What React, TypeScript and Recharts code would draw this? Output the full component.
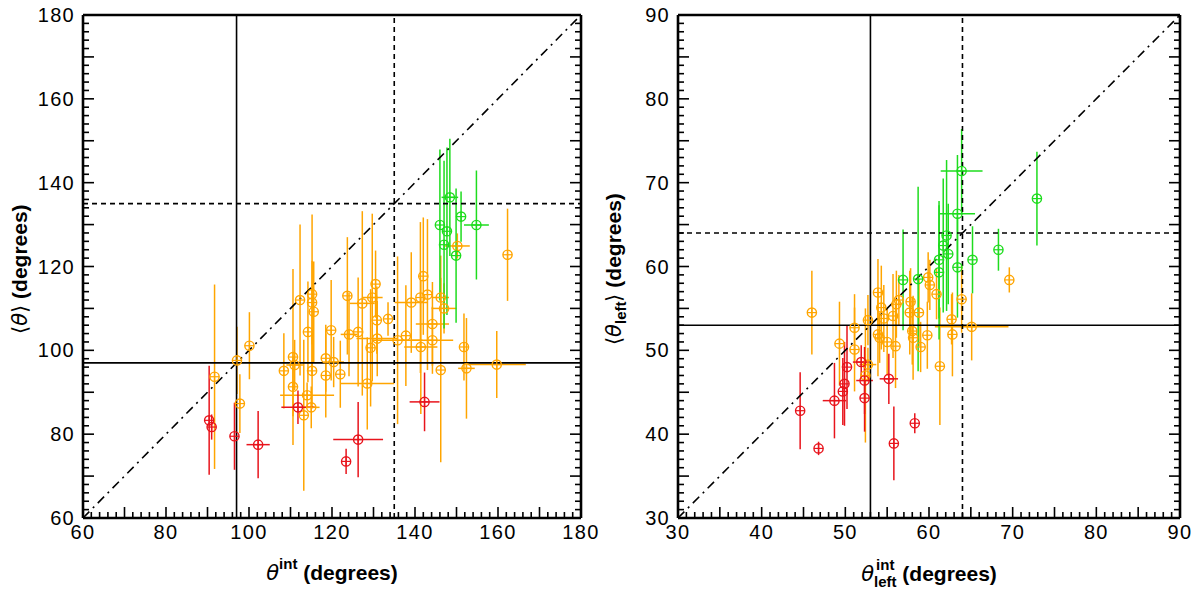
import React from 'react';
import { ScatterChart, Scatter, XAxis, YAxis, ErrorBar, ReferenceLine } from 'recharts';

// [x, y, x error, y error]
type Pt = [number, number, number, number];

const LEFT_RED: Pt[] = [
  [90.4, 83.3, 0, 13], [91, 81.7, 0, 3], [96.5, 79.5, 0, 8], [102.2, 77.5, 2.8, 8],
  [111.8, 86.4, 4, 4], [123.4, 73.5, 0, 3], [126.3, 78.7, 6, 9], [142.3, 87.7, 3.6, 7],
];

const LEFT_ORANGE: Pt[] = [
  [91.7, 93.7, 0, 22], [97.1, 97.6, 0, 8], [97.8, 87.3, 0, 7], [100.1, 101.1, 0, 8],
  [108.4, 95.1, 0, 9], [110.6, 98.4, 0, 21], [111, 96.5, 2, 6], [110.6, 91.3, 0, 7],
  [112.3, 112, 0, 18], [114, 89.3, 6.5, 3], [113.2, 84.5, 0, 18], [115, 86.4, 2, 5],
  [114.2, 104.4, 0, 12], [115.2, 113.4, 0, 19], [115.2, 111.4, 0, 10], [115.6, 109.2, 0, 12],
  [115.2, 95.1, 0, 9], [118.5, 98.1, 0, 8], [118.5, 94, 0, 10], [119.8, 104.8, 0, 12],
  [120.4, 97.2, 2.5, 6], [122, 94.3, 0, 8], [123.7, 113, 0, 14], [124.1, 103.8, 2, 10],
  [126.3, 104.4, 0, 13], [127.3, 111.2, 3, 22], [128.5, 92.1, 6.5, 11], [129.3, 100.6, 0, 14],
  [129.7, 112.6, 2.5, 20], [130.5, 115.8, 0, 8], [130.8, 107.2, 0, 8], [130.9, 102.8, 5, 9],
  [133.5, 107.5, 0, 4], [135.8, 102.4, 6, 20], [137.8, 103.5, 0, 12], [139.1, 111.4, 4, 12],
  [141.4, 100.8, 4, 16], [142, 117.7, 0, 14], [141.3, 112.6, 0, 18], [143, 113.3, 0, 18],
  [144.2, 106.3, 4, 10], [144.2, 102.4, 5, 8], [146.2, 112.6, 2, 10], [147, 110, 3, 6],
  [146.2, 95.3, 0, 22], [150.2, 124.9, 3, 3], [151.8, 100.8, 0, 8], [152.4, 95.7, 2, 12],
  [159.7, 96.6, 7, 8], [162.3, 122.8, 0, 11],
];

const LEFT_GREEN: Pt[] = [
  [148.4, 136.5, 2, 14], [151.1, 131.9, 0, 6], [146, 129.9, 0, 18], [147.7, 128.4, 0, 20],
  [154.8, 129.9, 3, 13], [147, 125.2, 0, 20], [149.9, 122.6, 0, 16],
];

const RIGHT_RED: Pt[] = [
  [44.6, 42.8, 0, 4.6], [46.8, 38.3, 0, 0.8], [48.7, 44, 1.4, 4.5], [49.7, 45.1, 0, 4],
  [49.9, 46, 0, 5], [50.2, 48, 0, 5], [51.9, 48.6, 1, 2], [52.3, 46.4, 1, 4],
  [52.3, 44.3, 0, 4], [55.2, 46.6, 1.1, 3], [55.8, 38.9, 0, 4.4], [58.3, 41.3, 0, 1.2],
];

const RIGHT_ORANGE: Pt[] = [
  [46, 54.5, 0, 5], [49.3, 50.8, 0, 5], [51.1, 52.7, 0, 4], [51.1, 50.1, 0, 5],
  [52.7, 53.6, 0, 3], [53.9, 56.9, 0, 4], [54.3, 55.1, 0, 5], [54.6, 53.8, 0, 4],
  [53.9, 51.9, 0, 5], [54.1, 51.5, 0, 3], [55, 51, 0, 4], [55.7, 54.1, 0, 5],
  [56, 50.5, 0, 5], [56.1, 55.5, 0, 4], [56.4, 56, 0, 3], [57.8, 55.8, 0, 4],
  [57.7, 54.5, 0, 5], [58, 52.3, 0, 4], [58.1, 51.5, 0, 5], [58.8, 54.5, 0, 4],
  [59, 50.4, 0, 3], [59.8, 51.8, 0, 4], [59.9, 58.7, 0, 3], [60.1, 57.8, 0, 3],
  [60.9, 56.7, 0, 3], [61.3, 48.1, 0, 7], [62.7, 53.7, 0, 3], [62.8, 51.9, 0, 5],
  [63.9, 56.1, 0, 4], [65.1, 52.8, 4.4, 4], [69.6, 58.4, 0, 1.5], [52.7, 48.3, 1, 2],
  [52.4, 47, 0, 8],
];

const RIGHT_GREEN: Pt[] = [
  [56.9, 58.4, 0, 6], [58.7, 58.5, 0, 11], [61.2, 59.3, 0, 8], [61.2, 60.8, 0, 7],
  [61.7, 62.5, 0, 8], [62.1, 63.7, 0, 9], [62.3, 61.5, 0, 6], [63.4, 59.9, 0, 6],
  [63.4, 66.3, 2.1, 7], [63.9, 71.4, 2.5, 5], [65.2, 60.8, 0, 4], [68.3, 62, 0, 2.5],
  [72.9, 68.1, 0, 5.6],
];

const RED = '#e8141c';
const ORANGE = '#ffa500';
const GREEN = '#1edc1e';
const FONT = '"Liberation Sans", Arial, sans-serif';

const toRows = (pts: Pt[]) => pts.map(([x, y, ex, ey]) => ({ x, y, ex, ey }));

function range(lo: number, hi: number, step: number) {
  const out: number[] = [];
  for (let v = lo; v <= hi + 1e-9; v += step) out.push(Math.round(v * 1000) / 1000);
  return out;
}

const isMultiple = (v: number, m: number) => Math.abs(v / m - Math.round(v / m)) < 1e-6;

function circlePlus(color: string) {
  return (props: any) => {
    const { cx, cy } = props;
    const r = 4.6;
    return (
      <g>
        <circle cx={cx} cy={cy} r={r} fill="none" stroke={color} strokeWidth={1.4} />
        <line x1={cx - r} x2={cx + r} y1={cy} y2={cy} stroke={color} strokeWidth={1.2} />
        <line x1={cx} x2={cx} y1={cy - r} y2={cy + r} stroke={color} strokeWidth={1.2} />
      </g>
    );
  };
}

function makeTick(side: string, major: number, labelEvery: number) {
  return (props: any) => {
    const { x, y, payload } = props;
    const v = payload.value;
    const len = isMultiple(v, major) ? 11 : 6;
    const label = isMultiple(v, labelEvery);
    const txt = { fontSize: 20, fontFamily: FONT, fill: '#000', letterSpacing: 1.3 };
    if (side === 'bottom') {
      return (
        <g>
          <line x1={x} x2={x} y1={y} y2={y - len} stroke="#000" strokeWidth={1.6} />
          {label && <text x={x} y={y + 21} textAnchor="middle" {...txt}>{v}</text>}
        </g>
      );
    }
    if (side === 'top') {
      return <line x1={x} x2={x} y1={y} y2={y + len} stroke="#000" strokeWidth={1.6} />;
    }
    if (side === 'left') {
      return (
        <g>
          <line x1={x} x2={x + len} y1={y} y2={y} stroke="#000" strokeWidth={1.6} />
          {label && <text x={x - 8} y={y + 7} textAnchor="end" {...txt}>{v}</text>}
        </g>
      );
    }
    return <line x1={x} x2={x - len} y1={y} y2={y} stroke="#000" strokeWidth={1.6} />;
  };
}

interface PanelProps {
  lo: number;
  hi: number;
  minor: number;
  major: number;
  labelEvery: number;
  solid: number;
  dashed: number;
  red: Pt[];
  orange: Pt[];
  green: Pt[];
  marginLeft: number;
  marginRight: number;
  xTitle: React.ReactNode;
  yTitle: React.ReactNode;
  yTitleX: number;
}

function Panel(p: PanelProps) {
  const ticks = range(p.lo, p.hi, p.minor);
  const axis = { stroke: '#000', strokeWidth: 2.6 };
  const plotLeft = p.marginLeft + 60;
  const plotRight = 600 - p.marginRight - 1;
  const groups: [Pt[], string][] = [[p.orange, ORANGE], [p.red, RED], [p.green, GREEN]];
  return (
    <div style={{ position: 'relative', width: 600, height: 591 }}>
      <ScatterChart width={600} height={591} margin={{ top: 14, right: p.marginRight, bottom: 20, left: p.marginLeft }}>
        <XAxis xAxisId="x" type="number" dataKey="x" domain={[p.lo, p.hi]} ticks={ticks} interval={0}
          height={53} tickSize={0} tickMargin={0} tickLine={false} axisLine={axis}
          tick={makeTick('bottom', p.major, p.labelEvery)} allowDataOverflow />
        <XAxis xAxisId="xt" orientation="top" type="number" domain={[p.lo, p.hi]} ticks={ticks} interval={0}
          height={1} tickSize={0} tickMargin={0} tickLine={false} axisLine={axis}
          tick={makeTick('top', p.major, p.labelEvery)} allowDataOverflow />
        <YAxis yAxisId="y" type="number" dataKey="y" domain={[p.lo, p.hi]} ticks={ticks} interval={0}
          width={60} tickSize={0} tickMargin={0} tickLine={false} axisLine={axis}
          tick={makeTick('left', p.major, p.labelEvery)} allowDataOverflow />
        <YAxis yAxisId="yr" orientation="right" type="number" domain={[p.lo, p.hi]} ticks={ticks} interval={0}
          width={1} tickSize={0} tickMargin={0} tickLine={false} axisLine={axis}
          tick={makeTick('right', p.major, p.labelEvery)} allowDataOverflow />
        {groups.map(([pts, color], i) => (
          <Scatter key={i} xAxisId="x" yAxisId="y" data={toRows(pts)} shape={circlePlus(color)} isAnimationActive={false}>
            <ErrorBar dataKey="ey" direction="y" width={0} stroke={color} strokeWidth={1.5} isAnimationActive={false} />
            <ErrorBar dataKey="ex" direction="x" width={0} stroke={color} strokeWidth={1.5} isAnimationActive={false} />
          </Scatter>
        ))}
        <ReferenceLine xAxisId="x" yAxisId="y" x={p.solid} stroke="#000" strokeWidth={1.6} />
        <ReferenceLine xAxisId="x" yAxisId="y" y={p.solid} stroke="#000" strokeWidth={1.6} />
        <ReferenceLine xAxisId="x" yAxisId="y" x={p.dashed} stroke="#000" strokeWidth={1.6} strokeDasharray="5 4" />
        <ReferenceLine xAxisId="x" yAxisId="y" y={p.dashed} stroke="#000" strokeWidth={1.6} strokeDasharray="5 4" />
        <ReferenceLine xAxisId="x" yAxisId="y" segment={[{ x: p.lo, y: p.lo }, { x: p.hi, y: p.hi }]}
          stroke="#000" strokeWidth={1.6} strokeDasharray="9 5 2 5" />
      </ScatterChart>
      <div style={{ position: 'absolute', left: plotLeft, width: plotRight - plotLeft, top: 558, textAlign: 'center', fontFamily: FONT, fontSize: 21, lineHeight: '30px', whiteSpace: 'nowrap' }}>
        {p.xTitle}
      </div>
      <div style={{ position: 'absolute', left: p.yTitleX - 160, width: 320, top: 254, height: 30, textAlign: 'center', fontFamily: FONT, fontSize: 21, lineHeight: '30px', transform: 'rotate(-90deg)', whiteSpace: 'nowrap' }}>
        {p.yTitle}
      </div>
    </div>
  );
}

const theta = <span style={{ fontStyle: 'italic', fontFamily: '"DejaVu Sans", sans-serif', fontSize: 21 }}>θ</span>;
const degrees = <b>(degrees)</b>;

export default function App() {
  return (
    <div style={{ position: 'absolute', left: 0, top: 0, width: 1200, height: 591, background: '#fff', display: 'flex' }}>
      <Panel lo={60} hi={180} minor={2} major={10} labelEvery={20} solid={97} dashed={135}
        red={LEFT_RED} orange={LEFT_ORANGE} green={LEFT_GREEN} marginLeft={23} marginRight={18}
        yTitleX={20}
        xTitle={<>{theta}<b style={{ fontSize: 15, position: 'relative', top: -11 }}>int</b> {degrees}</>}
        yTitle={<>⟨{theta}⟩ {degrees}</>} />
      <Panel lo={30} hi={90} minor={1} major={5} labelEvery={10} solid={53} dashed={64}
        red={RIGHT_RED} orange={RIGHT_ORANGE} green={RIGHT_GREEN} marginLeft={18} marginRight={19}
        yTitleX={14}
        xTitle={<>{theta}<span style={{ display: 'inline-flex', flexDirection: 'column', verticalAlign: 'middle', fontSize: 15, fontWeight: 'bold', lineHeight: '17px', position: 'relative', top: -2 }}><span>int</span><span>left</span></span> {degrees}</>}
        yTitle={<>⟨{theta}<b style={{ fontSize: 15, position: 'relative', top: 5 }}>left</b>⟩ {degrees}</>} />
    </div>
  );
}
